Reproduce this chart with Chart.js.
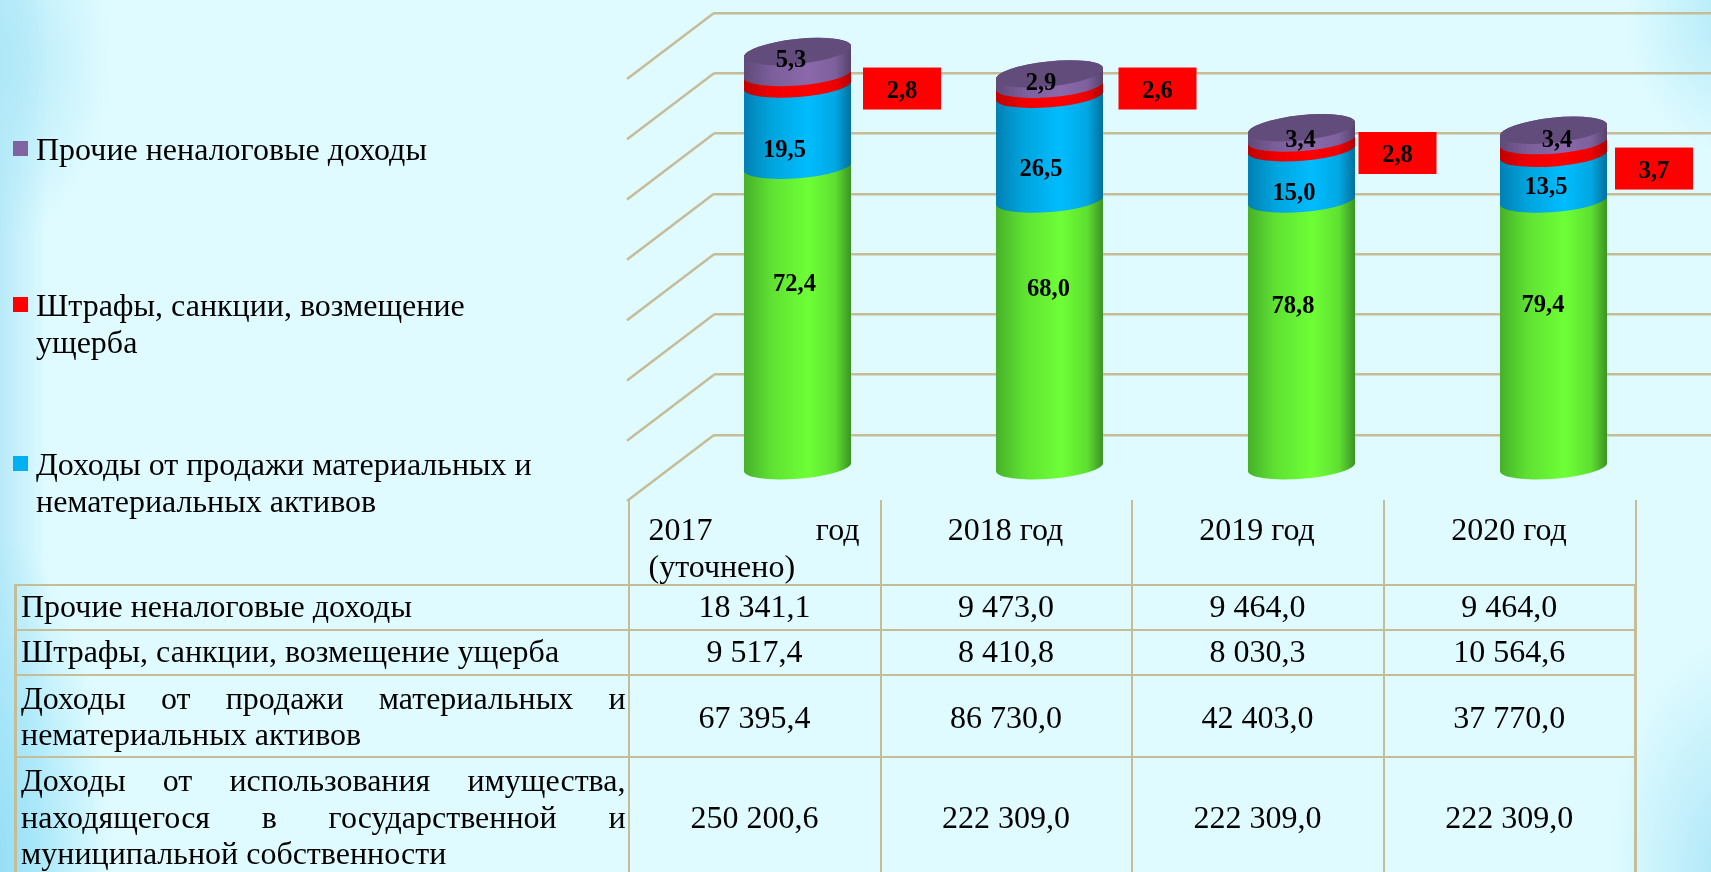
<!DOCTYPE html>
<html lang="ru"><head><meta charset="utf-8">
<script src="https://cdn.jsdelivr.net/npm/chart.js@4"></script>
<style>
html,body{margin:0;padding:0;width:1711px;height:872px;overflow:hidden;font-family:"Liberation Serif",serif;color:#000}
body{position:relative;background:
 radial-gradient(ellipse 120px 330px at -10px 860px,#94def7 0%,rgba(160,228,248,.7) 50%,rgba(223,251,255,0) 100%),
 radial-gradient(ellipse 110px 180px at 0px 60px,#b0e8f8 0%,rgba(223,251,255,0) 100%),
 linear-gradient(90deg,#b8eaf9 0,rgba(223,251,255,0) 48px),
 radial-gradient(ellipse 100px 140px at 1725px 15px,#b5ebf9 0%,rgba(223,251,255,0) 100%),
 radial-gradient(ellipse 115px 230px at 1725px 870px,#aee7f8 0%,rgba(223,251,255,0) 100%),
 #dffbff}
#wrap{position:absolute;left:0;top:0;width:1711px;height:872px;overflow:hidden}
#legend{position:absolute;left:0;top:0}
.li{position:absolute;left:36px;width:510px;font-size:32px;line-height:36.5px}
.li i{position:absolute;left:-23px;top:10px;width:15px;height:15px;display:block}
table{position:absolute;left:14px;top:500px;border-collapse:collapse;table-layout:fixed;width:1622px;font-size:32px;line-height:36.5px}
td{border:2px solid #c5bc98;padding:0;text-align:center;vertical-align:middle;overflow:hidden;white-space:normal}
td.h0{border-top:none;border-left:none}
td.h{border-top:none;vertical-align:top;padding:11px 20px 0 19px;text-align:left}
td.hc{text-align:center}
td.j{text-align:justify;padding:0 2px 0 4px}
td.b{border-bottom:none;vertical-align:top;padding-top:4px}
td.r{border-right:3.5px solid #c5bc98}
td.first{border-left:3px solid #c5bc98}
</style></head><body>
<div id="wrap"><canvas id="c" width="1722" height="872" style="width:1722px;height:872px;display:block"></canvas></div>
<div id="legend"></div>
<table id="t"></table>
<script>
const categories=["2017 год (уточнено)","2018 год","2019 год","2020 год"];
const seriesNames=["Доходы от использования имущества, находящегося в государственной и муниципальной собственности","Доходы от продажи материальных и нематериальных активов","Штрафы, санкции, возмещение ущерба","Прочие неналоговые доходы"];
const propertyIncome=[250200.6,222309.0,222309.0,222309.0];
const assetSales=[67395.4,86730.0,42403.0,37770.0];
const fines=[9517.4,8410.8,8030.3,10564.6];
const otherIncome=[18341.1,9473.0,9464.0,9464.0];
const propertyShare=["72,4","68,0","78,8","79,4"];
const assetShare=["19,5","26,5","15,0","13,5"];
const finesShare=["2,8","2,6","2,8","3,7"];
const otherShare=["5,3","2,9","3,4","3,4"];
const axisMax=350000, axisStep=50000;

// label nudges from each segment's centre, in pixels
const nudges=[
 [[-3,-34.6],[-1,-47],[-8.5,-29.6],[-10.5,-30.6]],
 [[-13,21.6],[-8.5,19],[-7.5,16.6],[-7.5,7.2]],
 [[104.5,9.2],[108,-1.8],[96,9],[100.5,20.5]],
 [[-6.5,-4.7],[-8.5,1],[-1,4],[3.5,1.5]]
];
const shares=[propertyShare,assetShare,finesShare,otherShare];
const ramps=[
 ["#46b02a","#5fe032","#6eff36","#5fe031","#3c9323"],
 ["#0080b4","#00a4dc","#00bcff","#00a8e2","#00709f"],
 ["#c00000","#ee0000","#ff0000","#ee0000","#b00000"],
 ["#5f4a78","#7a5e99","#8b69ab","#7d609c","#56426d"]
];
const legendColors=["#6eff36","#00b0f0","#ff0000","#8064a2"];
const capColor="#624c7b", gridColor="#c5bc98";
const depthX=-42.5, depthY=33, tilt=-4.5*Math.PI/180, capTilt=-6*Math.PI/180, ry=12, capRy=12.5;

function sideGradient(ctx,l,r,c){
 const g=ctx.createLinearGradient(l,0,r,0);
 [0,.25,.6,.85,1].forEach((s,i)=>g.addColorStop(s,c[i]));
 return g;
}
function segmentPath(ctx,l,r,yt,yb,isTop){
 const cx=(l+r)/2, rx=(r-l)/2, tt=isTop?capTilt:tilt, rt=isTop?capRy:ry;
 const db=rx*Math.tan(-tilt), dt=rx*Math.tan(-tt);
 ctx.beginPath();
 ctx.moveTo(l,yt+dt);ctx.lineTo(l,yb+db);ctx.lineTo(r,yb-db);ctx.lineTo(r,yt-dt);ctx.closePath();
 ctx.moveTo(cx+rx,yb);ctx.ellipse(cx,yb,rx+.5,ry,tilt,0,Math.PI*2,true);
 ctx.moveTo(cx+rx,yt);ctx.ellipse(cx,yt,rx+.5,rt,tt,0,Math.PI*2,true);
}
const cylinders={
 id:"cylinders",
 beforeDatasetDraw(){return false;},
 beforeDatasetsDraw(chart){
  const ctx=chart.ctx,y=chart.scales.y,a=chart.chartArea;
  ctx.save();ctx.strokeStyle=gridColor;ctx.lineWidth=2.5;
  y.ticks.forEach(t=>{const p=y.getPixelForValue(t.value);
   ctx.beginPath();ctx.moveTo(a.left,p);ctx.lineTo(a.left-87,p+66);ctx.stroke();});
  ctx.restore();
 },
 afterDatasetsDraw(chart){
  const ctx=chart.ctx,n=chart.data.datasets.length;
  ctx.save();
  categories.forEach((_,i)=>{
   for(let d=0;d<n;d++){
    const b=chart.getDatasetMeta(d).data[i];
    const l=b.x-b.width/2+depthX,r=b.x+b.width/2+depthX;
    const yt=b.y+depthY,yb=b.base+depthY;
    ctx.save();ctx.beginPath();ctx.rect(l,0,r-l,872);ctx.clip();
    ctx.fillStyle=sideGradient(ctx,l,r,ramps[d]);
    segmentPath(ctx,l,r,yt,yb,d===n-1);ctx.fill("nonzero");
    if(d===n-1){
     ctx.beginPath();ctx.ellipse((l+r)/2,yt,(r-l)/2+.5,capRy,capTilt,0,Math.PI*2);
     ctx.fillStyle=capColor;ctx.fill();
    }
    ctx.restore();
   }
   ctx.font='bold 24.5px "Liberation Serif"';ctx.textAlign="center";ctx.textBaseline="middle";
   for(let d=0;d<n;d++){
    const b=chart.getDatasetMeta(d).data[i];
    const cx=b.x+depthX+nudges[d][i][0], cy=(b.y+b.base)/2+depthY+nudges[d][i][1];
    if(d===2){ctx.fillStyle="#ff0000";ctx.fillRect(cx-39,cy-21,78,42);}
    ctx.fillStyle="#000";ctx.fillText(shares[d][i],cx,cy+3);
   }
  });
  ctx.restore();
 }
};
new Chart(document.getElementById("c"),{
 type:"bar",
 data:{labels:categories,datasets:[propertyIncome,assetSales,fines,otherIncome].map((v,i)=>({
   label:seriesNames[i],data:v,backgroundColor:ramps[i][2],stack:"s",barPercentage:1,categoryPercentage:107/252}))},
 options:{responsive:false,animation:false,
  layout:{padding:{left:714,right:0,top:13,bottom:437}},
  plugins:{legend:{display:false},tooltip:{enabled:false}},
  scales:{
   x:{display:false,stacked:true},
   y:{stacked:true,min:0,max:axisMax,ticks:{stepSize:axisStep,display:false},border:{display:false},
      grid:{color:gridColor,lineWidth:2.5,drawTicks:false}}
  }},
 plugins:[cylinders]
});

// legend
const legend=document.getElementById("legend");
[[3,131],[2,287],[1,446]].forEach(([d,top])=>{
 const e=document.createElement("div");e.className="li";e.style.top=top+"px";
 e.innerHTML='<i style="background:'+legendColors[d]+'"></i>'+seriesNames[d];
 legend.appendChild(e);
});

// table
function fmt(v){const s=v.toFixed(1).split(".");return s[0].replace(/\B(?=(\d{3})+$)/g," ")+","+s[1];}
const widths=[613,252,251,252,252];
const rows=[[otherIncome,3,45,"padding-bottom:2px"],[fines,2,45,"padding-bottom:2px"],[assetSales,1,82,"padding-top:3px"],[propertyIncome,0,116,"padding-top:3px;border-bottom:none"]];
let html="<colgroup>"+widths.map(w=>'<col style="width:'+w+'px">').join("")+"</colgroup>";
html+='<tr style="height:85px"><td class="h0"></td>'+categories.map((c,i)=>
  '<td class="h'+(i?" hc":"")+'" style="'+(i?"":"text-align:justify")+'">'+c+"</td>").join("")+"</tr>";
rows.forEach(([v,d,h,cs],r)=>{
 const b=r===3?" b":"";
 const ls=r<2?' style="padding-bottom:2px"':"";
 html+='<tr style="height:'+h+'px"><td class="j first'+b+'"'+ls+'>'+seriesNames[d]+"</td>"+
   v.map((x,k)=>'<td class="'+(k===3?"r":"")+'" style="'+cs+'">'+fmt(x)+"</td>").join("")+"</tr>";
});
document.getElementById("t").innerHTML=html;
</script>
</body></html>
